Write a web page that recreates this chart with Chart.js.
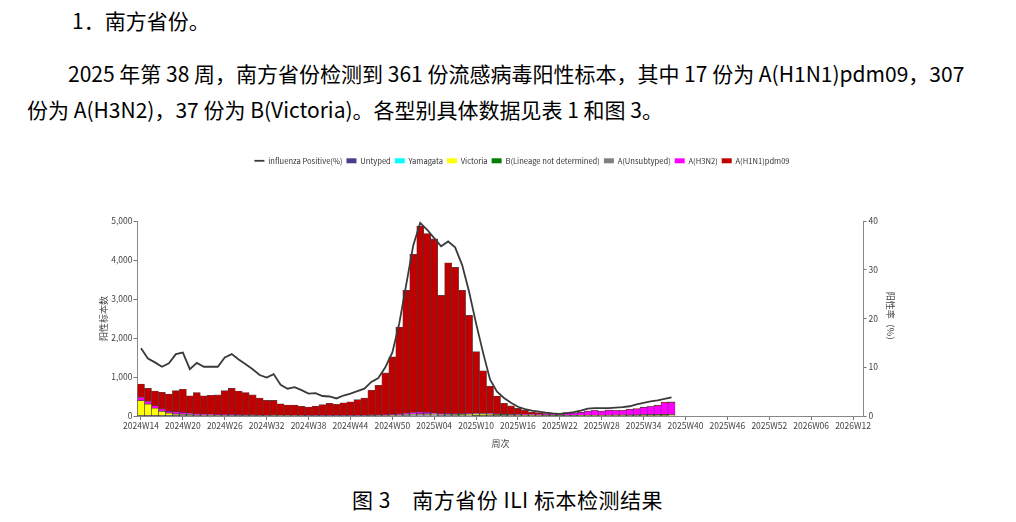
<!DOCTYPE html>
<html>
<head>
<meta charset="utf-8">
<script src="https://cdn.jsdelivr.net/npm/chart.js@4.4.1/dist/chart.umd.min.js"></script>
<style>
  html, body { margin:0; padding:0; background:#fff; }
  body { width:1016px; height:522px; position:relative; overflow:hidden;
         font-family:'Noto Sans CJK SC','Noto Sans',sans-serif; color:#000; }
  .t { position:absolute; white-space:nowrap; font-size:21px; line-height:21px; }
  #wrap { position:absolute; left:0; top:0; width:1016px; height:522px; }
</style>
</head>
<body>
<div class="t" style="left:72px;top:10px;">1．南方省份。</div>
<div class="t" style="left:68px;top:63px;">2025 年第 38 周，南方省份检测到 361 份流感病毒阳性标本，其中 17 份为 A(H1N1)pdm09，307</div>
<div class="t" style="left:27px;top:99px;">份为 A(H3N2)，37 份为 B(Victoria)。各型别具体数据见表 1 和图 3。</div>
<div class="t" style="left:352px;top:489px;letter-spacing:0.5px;">图 3　南方省份 ILI 标本检测结果</div>
<div id="wrap"><canvas id="c" width="1016" height="522" style="width:1016px;height:522px;"></canvas></div>
<script>
const weeks = [
 '2024W14','2024W15','2024W16','2024W17','2024W18','2024W19','2024W20','2024W21','2024W22','2024W23',
 '2024W24','2024W25','2024W26','2024W27','2024W28','2024W29','2024W30','2024W31','2024W32','2024W33',
 '2024W34','2024W35','2024W36','2024W37','2024W38','2024W39','2024W40','2024W41','2024W42','2024W43',
 '2024W44','2024W45','2024W46','2024W47','2024W48','2024W49','2024W50','2024W51','2024W52',
 '2025W01','2025W02','2025W03','2025W04','2025W05','2025W06','2025W07','2025W08','2025W09','2025W10',
 '2025W11','2025W12','2025W13','2025W14','2025W15','2025W16','2025W17','2025W18','2025W19','2025W20',
 '2025W21','2025W22','2025W23','2025W24','2025W25','2025W26','2025W27','2025W28','2025W29','2025W30',
 '2025W31','2025W32','2025W33','2025W34','2025W35','2025W36','2025W37','2025W38','2025W39','2025W40',
 '2025W41','2025W42','2025W43','2025W44','2025W45','2025W46','2025W47','2025W48','2025W49','2025W50',
 '2025W51','2025W52',
 '2026W01','2026W02','2026W03','2026W04','2026W05','2026W06','2026W07','2026W08','2026W09','2026W10',
 '2026W11','2026W12','2026W13'
];

const untyped = [4,4,4,4,4,4,4,4,4,4, 4,4,5,5,5,5,5,5,6,8, 10,10,8,6,5,4,4,4,4,4,
 4,4,5,6,8,10,12,15,20,25, 28,28,25,18,20,18,15,12,10,8, 6,5,4,3,3,2,2,2,2,2,
 2,2,2,2,2,2,2,2,2,2, 2,2,2,2,2,2,0];
const yamagata = [];
const victoria = [385,300,197,110,68,43,35,26,18,15, 12,10,8,6,5,5,4,3,3,3, 2,2,2,2,2,2,2,2,2,2,
 2,2,2,3,3,3,3,4,4,5, 5,6,6,6,10,12,18,30,40,45, 40,35,30,25,22,18,15,12,10,10,
 8,10,10,12,12,14,15,15,16,18, 20,22,24,26,28,32,37];
const bLineage = [0,0,0,0,0,0,0,0,0,0, 0,0,0,0,0,0,0,0,0,0, 0,0,0,0,0,0,0,0,0,0,
 0,0,0,0,0,0,0,0,0,0, 0,0,0,0,2,2,2,2,2,2, 2,2,2,2,2,2,2,2,2,2,
 2,1,1,1,1,1,1,1,1,1, 1,1,1,1,1,1,0];
const aUnsubtyped = [0,0,0,2,4,6,8,10,10,10, 10,10,10,10,10,8,8,8,6,6, 5,5,5,5,5,5,5,5,5,5,
 5,6,6,8,8,10,12,15,18,20, 20,20,20,15,15,15,15,12,12,10, 10,8,8,6,5,5,5,4,4,3,
 3,3,3,3,3,3,3,3,3,3, 3,3,3,3,3,3,0];
const h3n2 = [85,67,60,62,42,52,45,25,20,15, 12,10,14,14,10,8,6,5,5,5, 4,4,4,3,3,3,3,3,3,3,
 3,4,4,5,6,8,10,15,25,40, 50,40,25,15,12,10,8,6,5,5, 5,6,8,10,12,15,15,20,22,25,
 30,65,58,73,106,122,104,130,118,116, 138,152,190,212,234,302,307];
const h1n1 = [346,339,379,429,447,545,593,455,548,476, 492,506,613,675,610,574,517,439,380,378,
 294,259,261,234,215,241,276,311,286,326, 351,404,443,638,762,1074,1483,2233,3155,4055,
 4767,4586,4464,3039,3871,3753,3164,2518,1581,1088, 702,457,273,214,151,103,64,45,28,18,
 6,4,3,3,4,3,3,3,5,5, 6,8,10,12,14,15,17];
const positiveRate = [13.9,11.8,11.0,10.1,10.8,12.7,13.0,9.6,10.9,10.1, 10.1,10.1,12.0,12.7,11.6,10.6,9.6,8.4,7.9,8.6,
 6.4,5.6,5.9,5.3,4.6,4.7,4.1,4.0,3.6,4.2, 4.6,5.1,5.6,7.0,7.8,10.0,13.0,19.0,27.0,35.0,
 39.6,38.2,36.5,34.8,35.8,34.6,31.0,25.5,19.0,13.0, 7.5,5.0,3.7,2.7,1.9,1.4,1.1,0.9,0.7,0.55,
 0.45,0.6,0.8,1.1,1.5,1.6,1.6,1.6,1.7,1.8, 2.0,2.4,2.7,3.0,3.2,3.5,3.8];

const leftTicks = [0,1000,2000,3000,4000,5000];
const rightTicks = [0,10,20,30,40];

Chart.defaults.font.family = "'Noto Sans CJK SC','Noto Sans',sans-serif";
Chart.defaults.color = '#444';

const edge = 'rgba(45,45,45,0.85)';
function barSet(label, data, color) {
  return { type:'bar', label, data, backgroundColor:color, borderColor:edge, borderWidth:0.6,
           borderSkipped:false, yAxisID:'y', stack:'s', pointStyle:'rect', order:1,
           barPercentage:1, categoryPercentage:1 };
}

const legendSpacer = {
  id:'legendSpacer',
  beforeInit(chart) {
    const orig = chart.legend.fit;
    chart.legend.fit = function() { orig.call(this); this.height += 46.4; };
  }
};

new Chart(document.getElementById('c'), {
  data: {
    labels: weeks,
    datasets: [
      { type:'line', label:'influenza Positive(%)', data:positiveRate, yAxisID:'y1',
        borderColor:'#3a3a3a', borderWidth:1.8, pointRadius:0, tension:0, fill:false,
        pointStyle:'line', order:0 },
      barSet('Untyped', untyped, '#483d8b'),
      barSet('Yamagata', yamagata, '#00ffff'),
      barSet('Victoria', victoria, '#ffff00'),
      barSet('B(Lineage not determined)', bLineage, '#008000'),
      barSet('A(Unsubtyped)', aUnsubtyped, '#808080'),
      barSet('A(H3N2)', h3n2, '#ff00ff'),
      barSet('A(H1N1)pdm09', h1n1, '#c00000')
    ]
  },
  options: {
    responsive:false, animation:false, devicePixelRatio:1,
    layout:{ padding:{ left:95, right:67, top:153, bottom:60 } },
    plugins:{
      tooltip:{ enabled:false },
      legend:{
        position:'top',
        labels:{
          font:{ size:7.6 }, color:'#333', boxWidth:10, boxHeight:5, padding:4,
          usePointStyle:true, pointStyleWidth:10,
          generateLabels(chart) {
            const items = Chart.defaults.plugins.legend.labels.generateLabels(chart);
            items.forEach(it => { if (it.pointStyle !== 'line') { it.lineWidth = 0; it.strokeStyle = it.fillStyle; } });
            return items;
          }
        }
      }
    },
    scales:{
      x:{
        type:'category', offset:true, stacked:true,
        grid:{ drawOnChartArea:false, offset:false, tickLength:4,
               tickColor:(ctx) => (ctx.index % 6 === 0 ? '#777' : 'rgba(0,0,0,0)') },
        border:{ color:'#888', width:1 },
        ticks:{ autoSkip:false, maxRotation:0, minRotation:0, padding:1, font:{ size:8.5 }, color:'#444',
                callback:function(v, i){ return i % 6 === 0 ? this.getLabelForValue(v) : ''; } },
        title:{ display:true, text:'周次', font:{ size:9 }, color:'#444', padding:{ top:0, bottom:13 } },
        afterFit(axis){ axis.height = 46; }
      },
      y:{
        position:'left', stacked:true, min:0, max:5000,
        afterBuildTicks(axis){ axis.ticks = leftTicks.map(v => ({ value:v })); },
        grid:{ drawOnChartArea:false, tickLength:4, tickColor:'#777' },
        border:{ color:'#888', width:1 },
        ticks:{ padding:1, font:{ size:8.5 }, color:'#444',
                callback:(v) => v.toLocaleString('en-US') },
        title:{ display:true, text:'阳性标本数', font:{ size:9 }, color:'#444', padding:{ top:3.6, bottom:0 } },
        afterFit(axis){ axis.width = 42.5; }
      },
      y1:{
        position:'right', min:0, max:40,
        afterBuildTicks(axis){ axis.ticks = rightTicks.map(v => ({ value:v })); },
        grid:{ drawOnChartArea:false, tickLength:3, tickColor:'#777' },
        border:{ color:'#888', width:1 },
        ticks:{ padding:2, font:{ size:8.5 }, color:'#444' },
        title:{ display:true, text:'阳性率（%）', font:{ size:9 }, color:'#444', padding:{ top:53.6, bottom:0 } },
        afterFit(axis){ axis.width = 85.5; }
      }
    }
  },
  plugins:[legendSpacer]
});
</script>
</body>
</html>
